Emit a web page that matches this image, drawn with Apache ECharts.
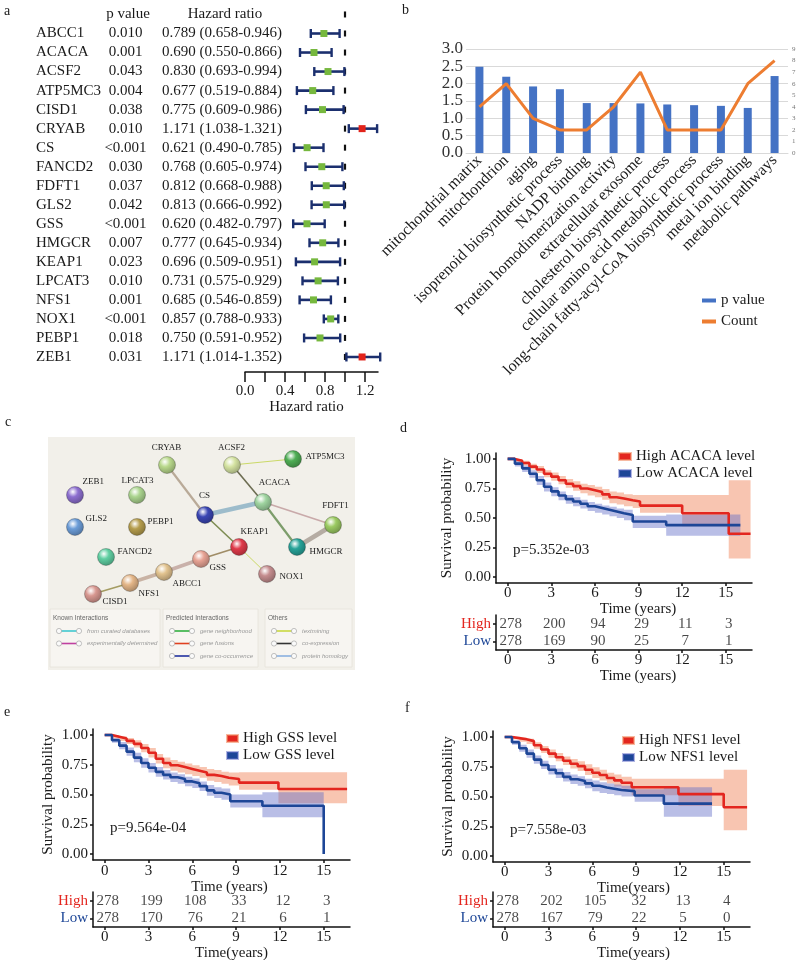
<!DOCTYPE html>
<html><head><meta charset="utf-8">
<script src="https://cdn.jsdelivr.net/npm/echarts@6/dist/echarts.min.js"></script>
<style>html,body{margin:0;padding:0;background:#fff}#c{width:800px;height:960px}</style>
</head><body><div id="c"></div><script>
// ---------------- Panel a data ----------------
const genes = ['ABCC1','ACACA','ACSF2','ATP5MC3','CISD1','CRYAB','CS','FANCD2','FDFT1','GLS2','GSS','HMGCR','KEAP1','LPCAT3','NFS1','NOX1','PEBP1','ZEB1'];
const pValues = ['0.010','0.001','0.043','0.004','0.038','0.010','<0.001','0.030','0.037','0.042','<0.001','0.007','0.023','0.010','0.001','<0.001','0.018','0.031'];
const hazard = [0.789,0.690,0.830,0.677,0.775,1.171,0.621,0.768,0.812,0.813,0.620,0.777,0.696,0.731,0.685,0.857,0.750,1.171];
const hazardLow = [0.658,0.550,0.693,0.519,0.609,1.038,0.490,0.605,0.668,0.666,0.482,0.645,0.509,0.575,0.546,0.788,0.591,1.014];
const hazardHigh = [0.946,0.866,0.994,0.884,0.986,1.321,0.785,0.974,0.988,0.992,0.797,0.934,0.951,0.929,0.859,0.933,0.952,1.352];
const forestTickValues = [0,0.2,0.4,0.6,0.8,1.0,1.2];
const forestLabelValues = [0,0.4,0.8,1.2];

// ---------------- Panel b data ----------------
const goTerms = ['mitochondrial matrix','mitochondrion','aging','isoprenoid biosynthetic process','NADP binding','Protein homodimerization activity','extracellular exosome','cholesterol biosynthetic process','cellular amino acid metabolic process','long-chain fatty-acyl-CoA biosynthetic process','metal ion binding','metabolic pathways'];
const goPValue = [2.49,2.20,1.92,1.84,1.44,1.44,1.43,1.40,1.38,1.36,1.30,2.22];
const goCount = [4,6,3,2,2,4,7,2,2,2,6,8];

// ---------------- Panel c data ----------------
const netNodes = ['CRYAB','ACSF2','ATP5MC3','ZEB1','LPCAT3','CS','ACACA','FDFT1','GLS2','PEBP1','KEAP1','HMGCR','FANCD2','GSS','NOX1','ABCC1','NFS1','CISD1'];
const netX = [119,184,245,27,89,157,215,285,27,89,191,249,58,153,219,116,82,45];
const netY = [28,28,22,58,58,78,65,88,90,90,110,110,120,122,137,135,146,157];
const netLinks = [['CRYAB','CS'],['CS','ACACA'],['ACSF2','ACACA'],['ACSF2','ATP5MC3'],['ACACA','FDFT1'],['ACACA','HMGCR'],['FDFT1','HMGCR'],['CS','KEAP1'],['KEAP1','GSS'],['KEAP1','NOX1'],['GSS','ABCC1'],['ABCC1','NFS1'],['NFS1','CISD1']];
const netLegendTitles = ['Known Interactions','Predicted Interactions','Others'];
const netLegendItems = [['from curated databases','experimentally determined'],['gene neighborhood','gene fusions','gene co-occurrence'],['textmining','co-expression','protein homology']];

// ---------------- Panels d-f data ----------------
const kmTicks = [0,3,6,9,12,15];
const survTicks = [0,0.25,0.5,0.75,1];
const riskRows = ['Low','High'];

const acacaHighT = [0,0.5,1,1.5,2,2.5,3,3.5,4,4.5,5,5.5,6,6.5,7,7.5,8,8.6,9.1,12.0,15.2,16.7];
const acacaHighS = [1,0.985,0.965,0.935,0.91,0.875,0.85,0.82,0.79,0.77,0.75,0.735,0.72,0.70,0.675,0.665,0.65,0.64,0.605,0.54,0.367,0.367];
const acacaHighUp = [1,1,0.985,0.96,0.94,0.905,0.885,0.855,0.83,0.81,0.79,0.78,0.765,0.745,0.725,0.715,0.70,0.695,0.695,0.695,0.82,0.82];
const acacaHighLo = [1,0.97,0.945,0.91,0.88,0.845,0.815,0.785,0.755,0.73,0.71,0.69,0.675,0.655,0.625,0.615,0.60,0.585,0.545,0.43,0.158,0.158];
const acacaLowT = [0,0.5,1,1.5,2,2.5,3,3.5,4,4.5,5,5.5,6,6.5,7,7.5,8,8.6,10.9,16.0];
const acacaLowS = [1,0.96,0.92,0.875,0.82,0.765,0.725,0.69,0.66,0.64,0.62,0.60,0.585,0.57,0.555,0.54,0.525,0.47,0.44,0.44];
const acacaLowUp = [1,0.98,0.945,0.905,0.855,0.80,0.76,0.725,0.695,0.675,0.655,0.635,0.62,0.605,0.595,0.58,0.57,0.52,0.53,0.53];
const acacaLowLo = [1,0.935,0.89,0.84,0.78,0.725,0.685,0.65,0.62,0.60,0.58,0.56,0.545,0.53,0.515,0.50,0.48,0.415,0.35,0.35];
const acacaRiskHigh = [278,200,94,29,11,3];
const acacaRiskLow = [278,169,90,25,7,1];

const gssHighT = [0,0.5,1,1.5,2,2.5,3,3.5,4,4.5,5,5.5,6,6.5,7,7.5,8,8.5,9.2,11.9,16.6];
const gssHighS = [1,0.985,0.97,0.95,0.925,0.89,0.85,0.80,0.765,0.745,0.73,0.715,0.70,0.685,0.665,0.655,0.64,0.63,0.60,0.546,0.546];
const gssHighUp = [1,1,0.99,0.975,0.955,0.925,0.89,0.84,0.81,0.79,0.775,0.76,0.745,0.73,0.715,0.705,0.69,0.685,0.686,0.686,0.686];
const gssHighLo = [1,0.97,0.95,0.925,0.895,0.855,0.81,0.76,0.72,0.70,0.685,0.67,0.655,0.64,0.615,0.605,0.59,0.575,0.54,0.426,0.426];
const gssLowT = [0,0.5,1,1.5,2,2.5,3,3.5,4,4.5,5,5.5,6,6.5,7,7.5,8,8.6,10.8,15.0];
const gssLowS = [1,0.955,0.91,0.86,0.81,0.765,0.725,0.69,0.665,0.645,0.63,0.61,0.595,0.57,0.535,0.515,0.50,0.443,0.406,0];
const gssLowUp = [1,0.975,0.94,0.895,0.85,0.805,0.765,0.73,0.705,0.685,0.67,0.65,0.635,0.61,0.58,0.56,0.55,0.50,0.518,0.518];
const gssLowLo = [1,0.935,0.88,0.825,0.77,0.725,0.685,0.65,0.625,0.605,0.59,0.57,0.555,0.53,0.49,0.47,0.455,0.39,0.308,0.308];
const gssRiskHigh = [278,199,108,33,12,3];
const gssRiskLow = [278,170,76,21,6,1];

const nfs1HighT = [0,0.5,1,1.5,2,2.5,3,3.5,4,4.5,5,5.5,6,6.5,7,7.5,8,8.7,11.9,15.0,16.6];
const nfs1HighS = [1,0.99,0.98,0.965,0.93,0.895,0.86,0.83,0.80,0.775,0.755,0.725,0.70,0.68,0.655,0.635,0.615,0.578,0.52,0.41,0.41];
const nfs1HighUp = [1,1,0.995,0.985,0.955,0.925,0.895,0.865,0.835,0.815,0.795,0.77,0.745,0.725,0.70,0.685,0.665,0.65,0.65,0.725,0.725];
const nfs1HighLo = [1,0.98,0.96,0.94,0.90,0.865,0.825,0.795,0.765,0.735,0.715,0.68,0.655,0.635,0.61,0.585,0.565,0.51,0.42,0.217,0.217];
const nfs1LowT = [0,0.5,1,1.5,2,2.5,3,3.5,4,4.5,5,5.5,6,6.5,7,7.5,8,8.9,10.9,14.2];
const nfs1LowS = [1,0.955,0.905,0.86,0.81,0.765,0.725,0.695,0.665,0.645,0.63,0.61,0.59,0.575,0.565,0.555,0.545,0.508,0.44,0.44];
const nfs1LowUp = [1,0.975,0.935,0.895,0.845,0.80,0.765,0.735,0.705,0.685,0.67,0.65,0.635,0.62,0.61,0.60,0.59,0.56,0.577,0.577];
const nfs1LowLo = [1,0.935,0.875,0.825,0.775,0.73,0.685,0.655,0.625,0.605,0.59,0.57,0.545,0.53,0.52,0.51,0.50,0.455,0.33,0.33];
const nfs1RiskHigh = [278,202,105,32,13,4];
const nfs1RiskLow = [278,167,79,22,5,0];

// ---------------- styles ----------------
const SERIF = "'Liberation Serif','Times New Roman',serif";
const SANS = "'Liberation Sans','Noto Sans',sans-serif";
const TXT = '#1a1a1a';
const AX = {color:'#111', width:1.5};
const G = {outerBoundsMode:'none', containLabel:false, show:false};
const KM_RED = '#e3261f', KM_BLUE = '#1d4697';
const BAND_RED = 'rgba(242,140,100,0.5)', BAND_BLUE = 'rgba(100,110,200,0.45)';

const netColors = ['#b9d98c','#d5e3a2','#4fae55','#8d6fd0','#abd58f','#3a46b4','#9fd4a0','#9ccb63','#6c9dd8','#b59d4c','#df3a4a','#27a399','#60cfa2','#e7a394','#c58d8f','#e2c38f','#e4b688','#d89891'];
const netLabelPos = [[0,-17,'center'],[0,-17,'center'],[13,-2,'left'],[8,-13,'left'],[1,-14,'center'],[0,-19,'center'],[12,-19,'center'],[3,-19,'center'],[11,-8,'left'],[11,-5,'left'],[16,-15,'center'],[13,5,'left'],[12,-5,'left'],[9,9,'left'],[13,3,'left'],[9,12,'left'],[9,11,'left'],[10,8,'left']];
const netLinkStyles = [
  {color:'#b9aa98',width:2.2},{color:'#9dbccb',width:4.5},{color:'#6d6d52',width:1.6},{color:'#cbd967',width:1},
  {color:'#c9aaaa',width:1.8},{color:'#7d9d6b',width:2.2},{color:'#b5aca3',width:4.5},{color:'#7d8c52',width:1.6},
  {color:'#a08d66',width:1.8},{color:'#cbd967',width:1},{color:'#c9b1aa',width:3.5},{color:'#c9b3a4',width:3.5},{color:'#a49c62',width:1.6}
];
const netLegendBoxes = [[50,110],[163,95],[265,87]];
const netLegendColors = [['#3fc8d0','#c040a0'],['#30b040','#e04020','#2030a0'],['#c8d840','#333333','#8ab0e0']];

function darken(hex, f){
  const n = parseInt(hex.slice(1),16);
  const r = Math.round(((n>>16)&255)*f), g = Math.round(((n>>8)&255)*f), b = Math.round((n&255)*f);
  return 'rgb('+r+','+g+','+b+')';
}

const option = {
  animation:false,
  backgroundColor:'#fff',
  textStyle:{fontFamily:SERIF},
  grid:[], xAxis:[], yAxis:[], series:[], legend:[],
  graphic:{elements:[]}
};
const GE = option.graphic.elements;
function txt(x,y,text,size,opts){
  GE.push(Object.assign({type:'text', x:x, y:y, z:10, style:Object.assign({text:text, fontSize:size, fontFamily:SERIF, fill:TXT, align:'left', verticalAlign:'middle'}, opts||{})}));
}

// ================= Panel a: forest plot =================
option.grid.push(Object.assign({left:245, top:10, width:133, height:362}, G));
option.xAxis.push({gridIndex:0, type:'value', min:0, max:1.33,
  axisLine:{show:true, onZero:false, lineStyle:AX},
  axisTick:{show:true, length:10, customValues:forestTickValues, lineStyle:AX},
  axisLabel:{customValues:forestLabelValues, formatter:v=>v.toFixed(1), fontSize:15, color:TXT, margin:12, fontFamily:SERIF},
  splitLine:{show:false},
  name:'Hazard ratio', nameLocation:'middle', nameGap:27,
  nameTextStyle:{fontSize:15, color:TXT, fontFamily:SERIF, padding:[0,10,0,0]}});
const forestRows = [0].concat(genes.map((g,i)=>i+1));
option.yAxis.push({gridIndex:0, type:'value', inverse:true, min:-0.235, max:18.79,
  axisLine:{show:false}, axisTick:{show:false}, splitLine:{show:false},
  axisLabel:{customValues:forestRows, align:'left', margin:209,
    formatter:function(v){
      const i = Math.round(v);
      if(i===0) return '{g| }{hp|p value}{hh|Hazard ratio}';
      const k = i-1;
      return '{g|'+genes[k]+'}{p|'+pValues[k]+'}{s| }{h|'+hazard[k].toFixed(3)+' ('+hazardLow[k].toFixed(3)+'-'+hazardHigh[k].toFixed(3)+')}';
    },
    rich:{
      g:{width:72, align:'left', fontSize:15, fontFamily:SERIF, color:TXT},
      p:{width:35, align:'right', fontSize:15, fontFamily:SERIF, color:TXT},
      s:{width:14, fontSize:15},
      h:{width:130, align:'left', fontSize:15, fontFamily:SERIF, color:TXT},
      hp:{width:40, align:'center', fontSize:15, fontFamily:SERIF, color:TXT},
      hh:{width:154, align:'center', fontSize:15, fontFamily:SERIF, color:TXT}
    }}});
option.series.push({type:'custom', xAxisIndex:0, yAxisIndex:0, clip:false, silent:true,
  data: genes.map((g,i)=>[hazard[i], hazardLow[i], hazardHigh[i], i+1]),
  encode:{x:[0,1,2], y:3},
  renderItem:function(params, api){
    const row = api.value(3);
    const pLo = api.coord([api.value(1), row]);
    const pHi = api.coord([api.value(2), row]);
    const pM = api.coord([api.value(0), row]);
    const pOne = api.coord([1, row]);
    const y = pM[1];
    const NAVY = '#1b2f6e';
    const ch = [];
    const dashAt = (p)=>ch.push({type:'line', shape:{x1:p[0],y1:p[1]-3,x2:p[0],y2:p[1]+3}, style:{stroke:'#111', lineWidth:2.2}});
    dashAt(pOne);
    if(params.dataIndex===0) dashAt(api.coord([1,0]));
    ch.push({type:'line', shape:{x1:pLo[0],y1:y,x2:pHi[0],y2:y}, style:{stroke:NAVY,lineWidth:2.6}});
    ch.push({type:'line', shape:{x1:pLo[0],y1:y-4.5,x2:pLo[0],y2:y+4.5}, style:{stroke:NAVY,lineWidth:2.4}});
    ch.push({type:'line', shape:{x1:pHi[0],y1:y-4.5,x2:pHi[0],y2:y+4.5}, style:{stroke:NAVY,lineWidth:2.4}});
    ch.push({type:'rect', shape:{x:pM[0]-3.5,y:y-3.5,width:7,height:7}, style:{fill: api.value(0)>1 ? '#e2231a' : '#76b83e'}});
    return {type:'group', children:ch};
  }});

// ================= Panel b: bar + line =================
option.grid.push(Object.assign({left:466, top:49, width:322, height:104}, G));
option.xAxis.push({gridIndex:1, type:'category', data:goTerms,
  axisLine:{show:true, lineStyle:{color:'#d9d9d9'}}, axisTick:{show:false},
  axisLabel:{interval:0, rotate:45, fontSize:16, color:TXT, margin:5, fontFamily:SERIF}});
option.yAxis.push({gridIndex:1, type:'value', min:0, max:3, interval:0.5,
  axisLine:{show:false}, axisTick:{show:false},
  axisLabel:{formatter:v=>v.toFixed(1), fontSize:17, lineHeight:17, color:'#333', margin:3, fontFamily:SERIF,
    showMinLabel:true, showMaxLabel:true, hideOverlap:false},
  splitLine:{show:true, lineStyle:{color:'#d9d9d9', width:1}}});
option.yAxis.push({gridIndex:1, type:'value', position:'right', min:0, max:9, interval:1,
  axisLine:{show:false}, axisTick:{show:false}, splitLine:{show:false},
  axisLabel:{fontSize:7, color:'#777', margin:4, fontFamily:SERIF, showMinLabel:true, showMaxLabel:true}});
option.series.push({type:'bar', name:'p value', xAxisIndex:1, yAxisIndex:1, data:goPValue, barWidth:8, itemStyle:{color:'#4472C4'}});
option.series.push({type:'line', name:'Count', xAxisIndex:1, yAxisIndex:2, data:goCount, symbol:'none', lineStyle:{color:'#ED7D31', width:3}, itemStyle:{color:'#ED7D31'}, z:3});
option.legend.push({left:697, top:288, orient:'vertical', itemGap:6, itemWidth:14, itemHeight:4,
  textStyle:{fontSize:15, fontFamily:SERIF, color:TXT},
  data:[{name:'p value', icon:'rect'},{name:'Count', icon:'rect'}]});

// ================= Panel c: network =================
option.grid.push(Object.assign({left:48, top:437, width:307, height:233}, G));
option.xAxis.push({gridIndex:2, type:'value', min:0, max:307, show:false});
option.yAxis.push({gridIndex:2, type:'value', min:0, max:233, inverse:true, show:false});
GE.push({type:'rect', z:0, shape:{x:48,y:437,width:307,height:233}, style:{fill:'#f2f0ea'}});
netLegendBoxes.forEach((b,gi)=>{
  GE.push({type:'rect', z:1, shape:{x:b[0],y:609,width:b[1],height:58}, style:{fill:'#f7f5f1', stroke:'#e6e2da', lineWidth:0.8}});
  GE.push({type:'text', z:2, x:b[0]+3, y:618, style:{text:netLegendTitles[gi], fontSize:6.5, fontFamily:SANS, fill:'#666', align:'left', verticalAlign:'middle'}});
  netLegendItems[gi].forEach((t,k)=>{
    const yy = 631 + k*12.5, x1 = b[0]+9, x2 = b[0]+29;
    GE.push({type:'line', z:2, shape:{x1:x1,y1:yy,x2:x2,y2:yy}, style:{stroke:netLegendColors[gi][k], lineWidth:1.6}});
    GE.push({type:'circle', z:3, shape:{cx:x1,cy:yy,r:2.6}, style:{fill:'#fafafa', stroke:'#9a9a9a', lineWidth:0.6}});
    GE.push({type:'circle', z:3, shape:{cx:x2,cy:yy,r:2.6}, style:{fill:'#fafafa', stroke:'#9a9a9a', lineWidth:0.6}});
    GE.push({type:'text', z:2, x:b[0]+37, y:yy, style:{text:t, fontSize:6, fontFamily:SANS, fontStyle:'italic', fill:'#999', align:'left', verticalAlign:'middle'}});
  });
});
option.series.push({type:'graph', coordinateSystem:'cartesian2d', xAxisIndex:2, yAxisIndex:3, layout:'none', roam:false, silent:true,
  symbolSize:17, z:5,
  lineStyle:{opacity:1},
  data: netNodes.map((n,i)=>({
    name:n, value:[netX[i], netY[i]],
    itemStyle:{color:new echarts.graphic.RadialGradient(0.38,0.32,0.72,[{offset:0,color:'#ffffff'},{offset:0.4,color:netColors[i]},{offset:1,color:darken(netColors[i],0.72)}]), borderColor:'rgba(0,0,0,0.3)', borderWidth:0.8},
    label:{show:true, position:[8.5+netLabelPos[i][0], 8.5+netLabelPos[i][1]], align:netLabelPos[i][2], verticalAlign:'middle', fontSize:9, fontFamily:SERIF, color:'#222', formatter:'{b}'}
  })),
  links: netLinks.map((l,i)=>({source:l[0], target:l[1], lineStyle:{color:netLinkStyles[i].color, width:netLinkStyles[i].width, opacity:1, curveness:0}}))
});

// ================= Panels d-f: Kaplan-Meier =================
function stepBand(C, color, xi, yi){
  return {type:'custom', xAxisIndex:xi, yAxisIndex:yi, silent:true, z:1,
    data: C.t.map((t,i)=>[t, C.lo[i], C.up[i]]), encode:{x:0, y:[1,2]},
    renderItem:function(params, api){
      if(params.dataIndex!==0) return null;
      const n = C.t.length, pts = [];
      for(let i=0;i<n;i++){ pts.push(api.coord([C.t[i], C.up[i]])); if(i<n-1) pts.push(api.coord([C.t[i+1], C.up[i]])); }
      for(let i=n-1;i>=0;i--){ if(i<n-1) pts.push(api.coord([C.t[i+1], C.lo[i]])); pts.push(api.coord([C.t[i], C.lo[i]])); }
      return {type:'polygon', shape:{points:pts}, style:{fill:color}};
    }};
}
function addKM(P){
  const gi = option.grid.length, xi = option.xAxis.length, yi = option.yAxis.length;
  option.grid.push(Object.assign({left:P.box[0], top:P.box[1], width:P.box[2], height:P.box[3]}, G));
  option.grid.push(Object.assign({left:P.tbox[0], top:P.tbox[1], width:P.tbox[2], height:P.tbox[3]}, G));
  const xBase = (grid, name, margin, gap, off)=>({gridIndex:grid, type:'value', min:-0.8, max:16.8,
    axisLine:{show:true, onZero:false, lineStyle:AX},
    axisTick:{show:true, customValues:kmTicks, length:3, lineStyle:AX},
    axisLabel:{customValues:kmTicks, fontSize:15, color:TXT, margin:margin, fontFamily:SERIF},
    splitLine:{show:false},
    name:name, nameLocation:'middle', nameGap:gap,
    nameTextStyle:{fontSize:15, color:TXT, fontFamily:SERIF, padding:[0,0,0,off*2]}});
  option.xAxis.push(xBase(gi, P.xName, P.xm, P.xng, P.xoff));
  option.xAxis.push(xBase(gi+1, P.tName, P.tm, P.tng, P.toff));
  option.yAxis.push({gridIndex:gi, type:'value', min:-0.05, max:1.05,
    axisLine:{show:true, onZero:false, lineStyle:AX},
    axisTick:{show:true, customValues:survTicks, length:3, lineStyle:AX},
    axisLabel:{customValues:survTicks, formatter:v=>v.toFixed(2), fontSize:15, color:TXT, margin:5, fontFamily:SERIF},
    splitLine:{show:false},
    name:'Survival probability', nameLocation:'middle', nameGap:P.yng,
    nameTextStyle:{fontSize:15, color:TXT, fontFamily:SERIF}});
  option.yAxis.push({gridIndex:gi+1, type:'category', data:riskRows,
    axisLine:{show:true, onZero:false, lineStyle:AX},
    axisTick:{show:true, length:3, alignWithLabel:true, lineStyle:AX},
    axisLabel:{margin:5, formatter:v=> v==='High' ? '{h|High}' : '{l|Low}',
      rich:{h:{color:KM_RED, fontSize:15, fontFamily:SERIF}, l:{color:KM_BLUE, fontSize:15, fontFamily:SERIF}}}});
  option.series.push(stepBand(P.high, BAND_RED, xi, yi));
  option.series.push(stepBand(P.low, BAND_BLUE, xi, yi));
  option.series.push({type:'line', name:P.highName, xAxisIndex:xi, yAxisIndex:yi, step:'end', symbol:'none', z:3,
    data:P.high.t.map((t,i)=>[t, P.high.s[i]]), lineStyle:{color:KM_RED, width:2.6}, itemStyle:{color:KM_RED}});
  option.series.push({type:'line', name:P.lowName, xAxisIndex:xi, yAxisIndex:yi, step:'end', symbol:'none', z:3,
    data:P.low.t.map((t,i)=>[t, P.low.s[i]]), lineStyle:{color:KM_BLUE, width:2.6}, itemStyle:{color:KM_BLUE}});
  option.series.push({type:'scatter', xAxisIndex:xi+1, yAxisIndex:yi+1, symbolSize:1, silent:true,
    itemStyle:{color:'transparent'},
    label:{show:true, position:'inside', offset:[3,0], formatter:p=>String(p.value[2]), fontSize:15, color:TXT, fontFamily:SERIF},
    data: kmTicks.map((t,i)=>[t,'High',P.riskHigh[i]]).concat(kmTicks.map((t,i)=>[t,'Low',P.riskLow[i]]))});
  option.legend.push({left:P.leg[0], top:P.leg[1], orient:'vertical', itemGap:2, itemWidth:P.legW, itemHeight:7,
    textStyle:{fontSize:15, fontFamily:SERIF, color:TXT},
    data:[{name:P.highName, icon:'rect', itemStyle:{color:KM_RED, borderColor:'rgba(242,140,100,0.6)', borderWidth:2}},
          {name:P.lowName, icon:'rect', itemStyle:{color:KM_BLUE, borderColor:'rgba(100,110,200,0.5)', borderWidth:2}}]});
  txt(P.pPos[0], P.pPos[1], P.pText, 15);
}

addKM({box:[496,453,256,130], tbox:[496,615,256,35],
  high:{t:acacaHighT, s:acacaHighS, up:acacaHighUp, lo:acacaHighLo},
  low:{t:acacaLowT, s:acacaLowS, up:acacaLowUp, lo:acacaLowLo},
  riskHigh:acacaRiskHigh, riskLow:acacaRiskLow,
  highName:'High ACACA level', lowName:'Low ACACA level',
  xName:'Time (years)', tName:'Time (years)', xm:3, xng:14.5, xoff:14, tm:3, tng:17.5, toff:14, yng:41,
  leg:[613,444], legW:12, pText:'p=5.352e-03', pPos:[513,550]});
addKM({box:[93,729,257,131], tbox:[93,892,257,35],
  high:{t:gssHighT, s:gssHighS, up:gssHighUp, lo:gssHighLo},
  low:{t:gssLowT, s:gssLowS, up:gssLowUp, lo:gssLowLo},
  riskHigh:gssRiskHigh, riskLow:gssRiskLow,
  highName:'High GSS level', lowName:'Low GSS level',
  xName:'Time (years)', tName:'Time(years)', xm:3.5, xng:15.5, xoff:8, tm:3, tng:13.5, toff:10, yng:37,
  leg:[221,726], legW:11, pText:'p=9.564e-04', pPos:[110,828]});
addKM({box:[493,731,257,131], tbox:[493,892,257,35],
  high:{t:nfs1HighT, s:nfs1HighS, up:nfs1HighUp, lo:nfs1HighLo},
  low:{t:nfs1LowT, s:nfs1LowS, up:nfs1LowUp, lo:nfs1LowLo},
  riskHigh:nfs1RiskHigh, riskLow:nfs1RiskLow,
  highName:'High NFS1 level', lowName:'Low NFS1 level',
  xName:'Time(years)', tName:'Time(years)', xm:3, xng:13.5, xoff:12, tm:3, tng:13.5, toff:12, yng:37,
  leg:[617,728], legW:11, pText:'p=7.558e-03', pPos:[510,830]});

// panel letters
txt(4,11,'a',14); txt(402,10,'b',14); txt(5,422,'c',14); txt(400,428,'d',14); txt(4,712,'e',14); txt(405,708,'f',14);

const chart = echarts.init(document.getElementById('c'), null, {renderer:'canvas', width:800, height:960});
chart.setOption(option);
</script></body></html>
